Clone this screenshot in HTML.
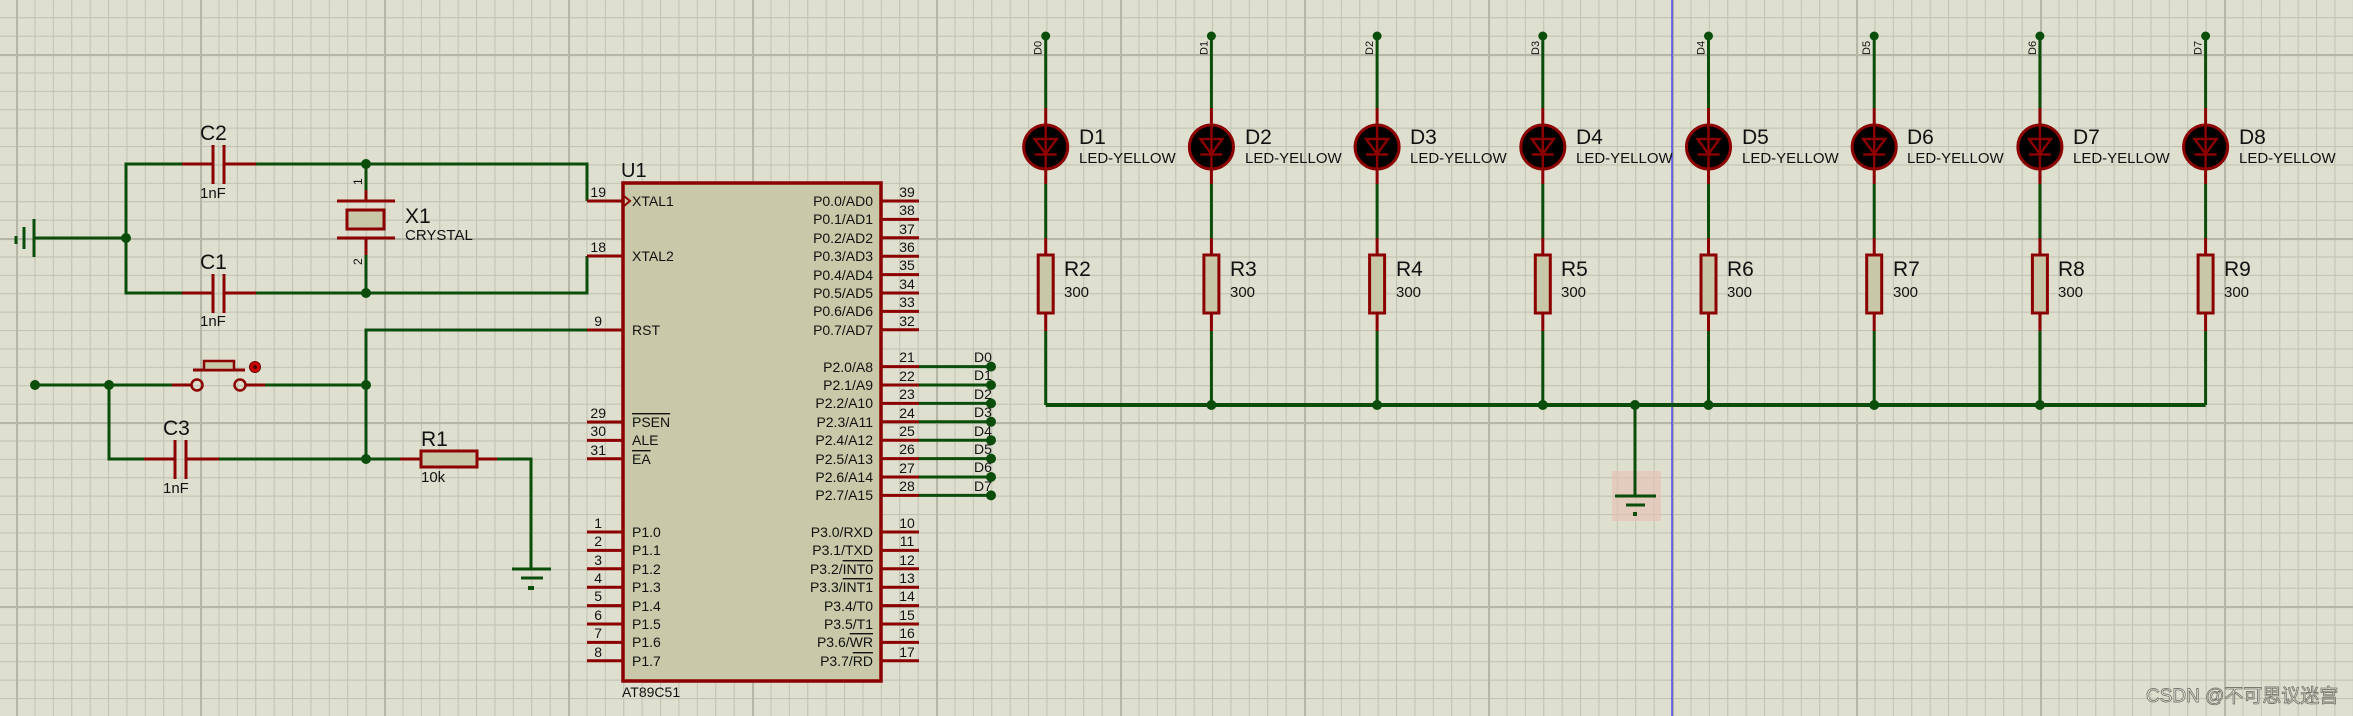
<!DOCTYPE html>
<html><head><meta charset="utf-8"><style>
html,body{margin:0;padding:0;background:#dfdfd0;}
svg{display:block;}
text{font-family:"Liberation Sans","Noto Sans CJK SC",sans-serif;fill:#111;}
.g{stroke:#0b4d0b;stroke-width:3;fill:none;}
.r{stroke:#8b0000;stroke-width:3;fill:none;}
.pn{font-size:14px;}
.nm{font-size:14px;}
.big{font-size:21px;}
.sm{font-size:15px;}
.ov{text-decoration:overline;}
</style></head><body>
<svg width="2353" height="716" viewBox="0 0 2353 716" xmlns="http://www.w3.org/2000/svg">
<defs>
<pattern id="mn" width="18.4" height="18.4" patternUnits="userSpaceOnUse" x="16" y="17.2">
<path d="M0.5 0V18.4M0 0.5H18.4" stroke="#c3c3b3" stroke-width="1.2" fill="none"/></pattern>
<pattern id="mj" width="184" height="184" patternUnits="userSpaceOnUse" x="16" y="54">
<path d="M1 0V184M0 1H184" stroke="#b6b6a6" stroke-width="2.2" fill="none"/></pattern>
<g id="led">
<line class="g" x1="0" y1="36" x2="0" y2="108"/>
<circle cx="0" cy="36" r="4.5" fill="#0b4d0b"/>
<line class="r" x1="0" y1="108" x2="0" y2="184"/>
<circle cx="0" cy="147" r="22" fill="#000" stroke="#8b0000" stroke-width="3"/>
<path d="M-11 139H11L0 154Z" fill="none" stroke="#8b0000" stroke-width="2.5"/>
<line x1="-11" y1="154.5" x2="11" y2="154.5" stroke="#8b0000" stroke-width="2.5"/>
<line x1="0" y1="125" x2="0" y2="169" stroke="#8b0000" stroke-width="2.5"/>
<line class="g" x1="0" y1="184" x2="0" y2="238"/>
<line class="r" x1="0" y1="238" x2="0" y2="255"/>
<rect x="-7.5" y="255" width="15" height="58" fill="#c8c8a8" stroke="#8b0000" stroke-width="3"/>
<line class="r" x1="0" y1="313" x2="0" y2="331"/>
<line class="g" x1="0" y1="331" x2="0" y2="405"/>
</g>
</defs>
<rect width="2353" height="716" fill="#dfdfd0"/>
<rect width="2353" height="716" fill="url(#mn)"/>
<rect width="2353" height="716" fill="url(#mj)"/>
<line x1="1672" y1="0" x2="1672" y2="716" stroke="#2a2aff" stroke-width="1.2"/>

<line x1="34" y1="219" x2="34" y2="257" stroke="#0b4d0b" stroke-width="3"/>
<line x1="24" y1="227" x2="24" y2="249" stroke="#0b4d0b" stroke-width="3"/>
<line x1="16" y1="236" x2="16" y2="244" stroke="#0b4d0b" stroke-width="3"/>
<polyline class="g" points="34,238 126,238"/>
<polyline class="g" points="182,164 126,164 126,293 182,293"/>
<circle cx="126" cy="238" r="5" fill="#0b4d0b"/>
<line class="r" x1="182" y1="164" x2="213" y2="164"/>
<line class="r" x1="224" y1="164" x2="256" y2="164"/>
<line x1="213" y1="145" x2="213" y2="184" stroke="#8b0000" stroke-width="3"/>
<line x1="224" y1="145" x2="224" y2="184" stroke="#8b0000" stroke-width="3"/>
<text x="200" y="140" class="big">C2</text>
<text x="200" y="198" class="sm">1nF</text>
<polyline class="g" points="256,164 587,164 587,201"/>
<line class="r" x1="182" y1="293" x2="213" y2="293"/>
<line class="r" x1="224" y1="293" x2="256" y2="293"/>
<line x1="213" y1="274" x2="213" y2="313" stroke="#8b0000" stroke-width="3"/>
<line x1="224" y1="274" x2="224" y2="313" stroke="#8b0000" stroke-width="3"/>
<text x="200" y="269" class="big">C1</text>
<text x="200" y="326" class="sm">1nF</text>
<polyline class="g" points="256,293 587,293 587,256"/>
<circle cx="366" cy="164" r="5" fill="#0b4d0b"/>
<circle cx="366" cy="293" r="5" fill="#0b4d0b"/>
<line class="g" x1="366" y1="164" x2="366" y2="190"/>
<line class="r" x1="366" y1="190" x2="366" y2="201"/>
<line x1="337" y1="201" x2="395" y2="201" stroke="#8b0000" stroke-width="3"/>
<rect x="347" y="210" width="37" height="19" fill="#c8c8a8" stroke="#8b0000" stroke-width="3"/>
<line x1="337" y1="238" x2="395" y2="238" stroke="#8b0000" stroke-width="3"/>
<line class="r" x1="366" y1="238" x2="366" y2="255"/>
<line class="g" x1="366" y1="255" x2="366" y2="293"/>
<text x="362" y="185" transform="rotate(-90 362 185)" font-size="12">1</text>
<text x="362" y="265" transform="rotate(-90 362 265)" font-size="12">2</text>
<text x="405" y="223" class="big">X1</text>
<text x="405" y="240" class="sm">CRYSTAL</text>

<circle cx="35" cy="385" r="5" fill="#0b4d0b"/>
<circle cx="109" cy="385" r="5" fill="#0b4d0b"/>
<line class="g" x1="35" y1="385" x2="172" y2="385"/>
<line class="r" x1="172" y1="385" x2="192" y2="385"/>
<circle cx="197" cy="385" r="5.5" fill="none" stroke="#8b0000" stroke-width="2.5"/>
<circle cx="240" cy="385" r="5.5" fill="none" stroke="#8b0000" stroke-width="2.5"/>
<line class="r" x1="245" y1="385" x2="265" y2="385"/>
<line class="g" x1="265" y1="385" x2="366" y2="385"/>
<line x1="193" y1="370" x2="245" y2="370" stroke="#8b0000" stroke-width="3"/>
<rect x="204" y="361" width="30" height="9" fill="#c8c8a8" stroke="#8b0000" stroke-width="2.5"/>
<circle cx="255" cy="367" r="5.5" fill="#d00000" stroke="#600" stroke-width="1"/>
<circle cx="255" cy="367" r="2" fill="#400"/>
<polyline class="g" points="109,385 109,459 144,459"/>
<line class="r" x1="144" y1="459" x2="175" y2="459"/>
<line class="r" x1="186" y1="459" x2="219" y2="459"/>
<line x1="175" y1="440" x2="175" y2="479" stroke="#8b0000" stroke-width="3"/>
<line x1="186" y1="440" x2="186" y2="479" stroke="#8b0000" stroke-width="3"/>
<text x="163" y="435" class="big">C3</text>
<text x="163" y="493" class="sm">1nF</text>
<line class="g" x1="219" y1="459" x2="400" y2="459"/>
<polyline class="g" points="587,330 366,330 366,459"/>
<circle cx="366" cy="385" r="5" fill="#0b4d0b"/>
<circle cx="366" cy="459" r="5" fill="#0b4d0b"/>
<line class="r" x1="400" y1="459" x2="421" y2="459"/>
<rect x="421" y="451" width="56" height="16" fill="#c8c8a8" stroke="#8b0000" stroke-width="3"/>
<line class="r" x1="477" y1="459" x2="497" y2="459"/>
<polyline class="g" points="497,459 531,459 531,569"/>
<line x1="512" y1="569" x2="551" y2="569" stroke="#0b4d0b" stroke-width="3"/>
<line x1="521" y1="578" x2="543" y2="578" stroke="#0b4d0b" stroke-width="3"/>
<rect x="528" y="586" width="6" height="4" fill="#0b4d0b"/>
<text x="421" y="446" class="big">R1</text>
<text x="421" y="482" class="sm">10k</text>

<rect x="623" y="183" width="258" height="498" fill="#c9c9a9" stroke="#8b0000" stroke-width="3.5"/>
<text x="621" y="177" font-size="20">U1</text>
<text x="622" y="697" font-size="14">AT89C51</text>
<g class="r">
<line x1="587" y1="201" x2="623" y2="201"/><line x1="587" y1="256" x2="623" y2="256"/>
<line x1="587" y1="330" x2="623" y2="330"/><line x1="587" y1="422" x2="623" y2="422"/>
<line x1="587" y1="440.4" x2="623" y2="440.4"/><line x1="587" y1="458.8" x2="623" y2="458.8"/>
<line x1="587" y1="532" x2="623" y2="532"/><line x1="587" y1="550.4" x2="623" y2="550.4"/>
<line x1="587" y1="568.8" x2="623" y2="568.8"/><line x1="587" y1="587.2" x2="623" y2="587.2"/>
<line x1="587" y1="605.6" x2="623" y2="605.6"/><line x1="587" y1="624" x2="623" y2="624"/>
<line x1="587" y1="642.4" x2="623" y2="642.4"/><line x1="587" y1="660.8" x2="623" y2="660.8"/>
<line x1="881" y1="201" x2="919" y2="201"/><line x1="881" y1="219.4" x2="919" y2="219.4"/>
<line x1="881" y1="237.8" x2="919" y2="237.8"/><line x1="881" y1="256.2" x2="919" y2="256.2"/>
<line x1="881" y1="274.6" x2="919" y2="274.6"/><line x1="881" y1="293" x2="919" y2="293"/>
<line x1="881" y1="311.4" x2="919" y2="311.4"/><line x1="881" y1="329.8" x2="919" y2="329.8"/>
<line x1="881" y1="366.6" x2="919" y2="366.6"/><line x1="881" y1="385" x2="919" y2="385"/>
<line x1="881" y1="403.4" x2="919" y2="403.4"/><line x1="881" y1="421.8" x2="919" y2="421.8"/>
<line x1="881" y1="440.2" x2="919" y2="440.2"/><line x1="881" y1="458.6" x2="919" y2="458.6"/>
<line x1="881" y1="477" x2="919" y2="477"/><line x1="881" y1="495.4" x2="919" y2="495.4"/>
<line x1="881" y1="532" x2="919" y2="532"/><line x1="881" y1="550.4" x2="919" y2="550.4"/>
<line x1="881" y1="568.8" x2="919" y2="568.8"/><line x1="881" y1="587.2" x2="919" y2="587.2"/>
<line x1="881" y1="605.6" x2="919" y2="605.6"/><line x1="881" y1="624" x2="919" y2="624"/>
<line x1="881" y1="642.4" x2="919" y2="642.4"/><line x1="881" y1="660.8" x2="919" y2="660.8"/>
</g>
<path d="M624 196L630 201L624 206" fill="none" stroke="#8b0000" stroke-width="2"/>
<g text-anchor="end">
<text x="606" y="197" class="pn">19</text><text x="606" y="252" class="pn">18</text>
<text x="602" y="326" class="pn">9</text><text x="606" y="418" class="pn">29</text>
<text x="606" y="436" class="pn">30</text><text x="606" y="455" class="pn">31</text>
<text x="602" y="528" class="pn">1</text><text x="602" y="546" class="pn">2</text>
<text x="602" y="565" class="pn">3</text><text x="602" y="583" class="pn">4</text>
<text x="602" y="601" class="pn">5</text><text x="602" y="620" class="pn">6</text>
<text x="602" y="638" class="pn">7</text><text x="602" y="657" class="pn">8</text>
</g>
<g>
<text x="632" y="206" class="nm">XTAL1</text><text x="632" y="261" class="nm">XTAL2</text>
<text x="632" y="335" class="nm">RST</text>
<text x="632" y="427" class="nm"><tspan class="ov">PSEN</tspan></text>
<text x="632" y="445" class="nm">ALE</text>
<text x="632" y="464" class="nm"><tspan class="ov">EA</tspan></text>
<text x="632" y="537" class="nm">P1.0</text><text x="632" y="555" class="nm">P1.1</text>
<text x="632" y="574" class="nm">P1.2</text><text x="632" y="592" class="nm">P1.3</text>
<text x="632" y="611" class="nm">P1.4</text><text x="632" y="629" class="nm">P1.5</text>
<text x="632" y="647" class="nm">P1.6</text><text x="632" y="666" class="nm">P1.7</text>
</g>
<g text-anchor="end">
<text x="873" y="206" class="nm">P0.0/AD0</text><text x="873" y="224" class="nm">P0.1/AD1</text>
<text x="873" y="243" class="nm">P0.2/AD2</text><text x="873" y="261" class="nm">P0.3/AD3</text>
<text x="873" y="280" class="nm">P0.4/AD4</text><text x="873" y="298" class="nm">P0.5/AD5</text>
<text x="873" y="316" class="nm">P0.6/AD6</text><text x="873" y="335" class="nm">P0.7/AD7</text>
<text x="873" y="372" class="nm">P2.0/A8</text><text x="873" y="390" class="nm">P2.1/A9</text>
<text x="873" y="408" class="nm">P2.2/A10</text><text x="873" y="427" class="nm">P2.3/A11</text>
<text x="873" y="445" class="nm">P2.4/A12</text><text x="873" y="464" class="nm">P2.5/A13</text>
<text x="873" y="482" class="nm">P2.6/A14</text><text x="873" y="500" class="nm">P2.7/A15</text>
<text x="873" y="537" class="nm">P3.0/RXD</text><text x="873" y="555" class="nm">P3.1/TXD</text>
<text x="873" y="574" class="nm">P3.2/<tspan class="ov">INT0</tspan></text>
<text x="873" y="592" class="nm">P3.3/<tspan class="ov">INT1</tspan></text>
<text x="873" y="611" class="nm">P3.4/T0</text><text x="873" y="629" class="nm">P3.5/T1</text>
<text x="873" y="647" class="nm">P3.6/<tspan class="ov">WR</tspan></text>
<text x="873" y="666" class="nm">P3.7/<tspan class="ov">RD</tspan></text>
</g>
<g text-anchor="middle">
<text x="907" y="197" class="pn">39</text><text x="907" y="215" class="pn">38</text>
<text x="907" y="234" class="pn">37</text><text x="907" y="252" class="pn">36</text>
<text x="907" y="270" class="pn">35</text><text x="907" y="289" class="pn">34</text>
<text x="907" y="307" class="pn">33</text><text x="907" y="326" class="pn">32</text>
<text x="907" y="362" class="pn">21</text><text x="907" y="381" class="pn">22</text>
<text x="907" y="399" class="pn">23</text><text x="907" y="418" class="pn">24</text>
<text x="907" y="436" class="pn">25</text><text x="907" y="454" class="pn">26</text>
<text x="907" y="473" class="pn">27</text><text x="907" y="491" class="pn">28</text>
<text x="907" y="528" class="pn">10</text><text x="907" y="546" class="pn">11</text>
<text x="907" y="565" class="pn">12</text><text x="907" y="583" class="pn">13</text>
<text x="907" y="601" class="pn">14</text><text x="907" y="620" class="pn">15</text>
<text x="907" y="638" class="pn">16</text><text x="907" y="657" class="pn">17</text>
</g>
<g class="g">
<line x1="919" y1="366.6" x2="991" y2="366.6"/><line x1="919" y1="385" x2="991" y2="385"/>
<line x1="919" y1="403.4" x2="991" y2="403.4"/><line x1="919" y1="421.8" x2="991" y2="421.8"/>
<line x1="919" y1="440.2" x2="991" y2="440.2"/><line x1="919" y1="458.6" x2="991" y2="458.6"/>
<line x1="919" y1="477" x2="991" y2="477"/><line x1="919" y1="495.4" x2="991" y2="495.4"/>
</g>
<g fill="#0b4d0b">
<circle cx="991" cy="366.6" r="5"/><circle cx="991" cy="385" r="5"/><circle cx="991" cy="403.4" r="5"/>
<circle cx="991" cy="421.8" r="5"/><circle cx="991" cy="440.2" r="5"/><circle cx="991" cy="458.6" r="5"/>
<circle cx="991" cy="477" r="5"/><circle cx="991" cy="495.4" r="5"/>
</g>
<g font-size="14">
<text x="974" y="362">D0</text><text x="974" y="380">D1</text><text x="974" y="399">D2</text>
<text x="974" y="417">D3</text><text x="974" y="436">D4</text><text x="974" y="454">D5</text>
<text x="974" y="472">D6</text><text x="974" y="491">D7</text>
</g>

<use href="#led" x="1045.7"/><use href="#led" x="1211.4"/><use href="#led" x="1377.1"/><use href="#led" x="1542.8"/>
<use href="#led" x="1708.5"/><use href="#led" x="1874.2"/><use href="#led" x="2039.9"/><use href="#led" x="2205.6"/>
<g font-size="11">
<text transform="translate(1041.7,55) rotate(-90)">D0</text>
<text transform="translate(1207.4,55) rotate(-90)">D1</text>
<text transform="translate(1373.1,55) rotate(-90)">D2</text>
<text transform="translate(1538.8,55) rotate(-90)">D3</text>
<text transform="translate(1704.5,55) rotate(-90)">D4</text>
<text transform="translate(1870.2,55) rotate(-90)">D5</text>
<text transform="translate(2035.9,55) rotate(-90)">D6</text>
<text transform="translate(2201.6,55) rotate(-90)">D7</text>
</g>
<g>
<text x="1079" y="144" class="big">D1</text><text x="1245" y="144" class="big">D2</text>
<text x="1410" y="144" class="big">D3</text><text x="1576" y="144" class="big">D4</text>
<text x="1742" y="144" class="big">D5</text><text x="1907" y="144" class="big">D6</text>
<text x="2073" y="144" class="big">D7</text><text x="2239" y="144" class="big">D8</text>
</g>
<g>
<text x="1079" y="163" class="sm">LED-YELLOW</text><text x="1245" y="163" class="sm">LED-YELLOW</text>
<text x="1410" y="163" class="sm">LED-YELLOW</text><text x="1576" y="163" class="sm">LED-YELLOW</text>
<text x="1742" y="163" class="sm">LED-YELLOW</text><text x="1907" y="163" class="sm">LED-YELLOW</text>
<text x="2073" y="163" class="sm">LED-YELLOW</text><text x="2239" y="163" class="sm">LED-YELLOW</text>
</g>
<g>
<text x="1064" y="276" class="big">R2</text><text x="1230" y="276" class="big">R3</text>
<text x="1396" y="276" class="big">R4</text><text x="1561" y="276" class="big">R5</text>
<text x="1727" y="276" class="big">R6</text><text x="1893" y="276" class="big">R7</text>
<text x="2058" y="276" class="big">R8</text><text x="2224" y="276" class="big">R9</text>
</g>
<g>
<text x="1064" y="297" class="sm">300</text><text x="1230" y="297" class="sm">300</text>
<text x="1396" y="297" class="sm">300</text><text x="1561" y="297" class="sm">300</text>
<text x="1727" y="297" class="sm">300</text><text x="1893" y="297" class="sm">300</text>
<text x="2058" y="297" class="sm">300</text><text x="2224" y="297" class="sm">300</text>
</g>
<line x1="1045.7" y1="405" x2="2205.6" y2="405" stroke="#0b4d0b" stroke-width="4"/>
<g fill="#0b4d0b">
<circle cx="1211.4" cy="405" r="5"/><circle cx="1377.1" cy="405" r="5"/><circle cx="1542.8" cy="405" r="5"/>
<circle cx="1635" cy="405" r="5"/><circle cx="1708.5" cy="405" r="5"/><circle cx="1874.2" cy="405" r="5"/>
<circle cx="2039.9" cy="405" r="5"/>
</g>
<rect x="1612" y="471" width="49" height="50" fill="#e6c0b0" opacity="0.6"/>
<line class="g" x1="1635" y1="405" x2="1635" y2="496"/>
<line x1="1615" y1="496" x2="1656" y2="496" stroke="#0b4d0b" stroke-width="3"/>
<line x1="1626" y1="505" x2="1645" y2="505" stroke="#0b4d0b" stroke-width="3"/>
<rect x="1633" y="512" width="4" height="4" fill="#0b4d0b"/>

<text x="2146" y="702" font-size="19" stroke="#7a7a70" stroke-width="0.9" style="fill:#f4f4ec">CSDN @不可思议迷宫</text>
</svg>
</body></html>
